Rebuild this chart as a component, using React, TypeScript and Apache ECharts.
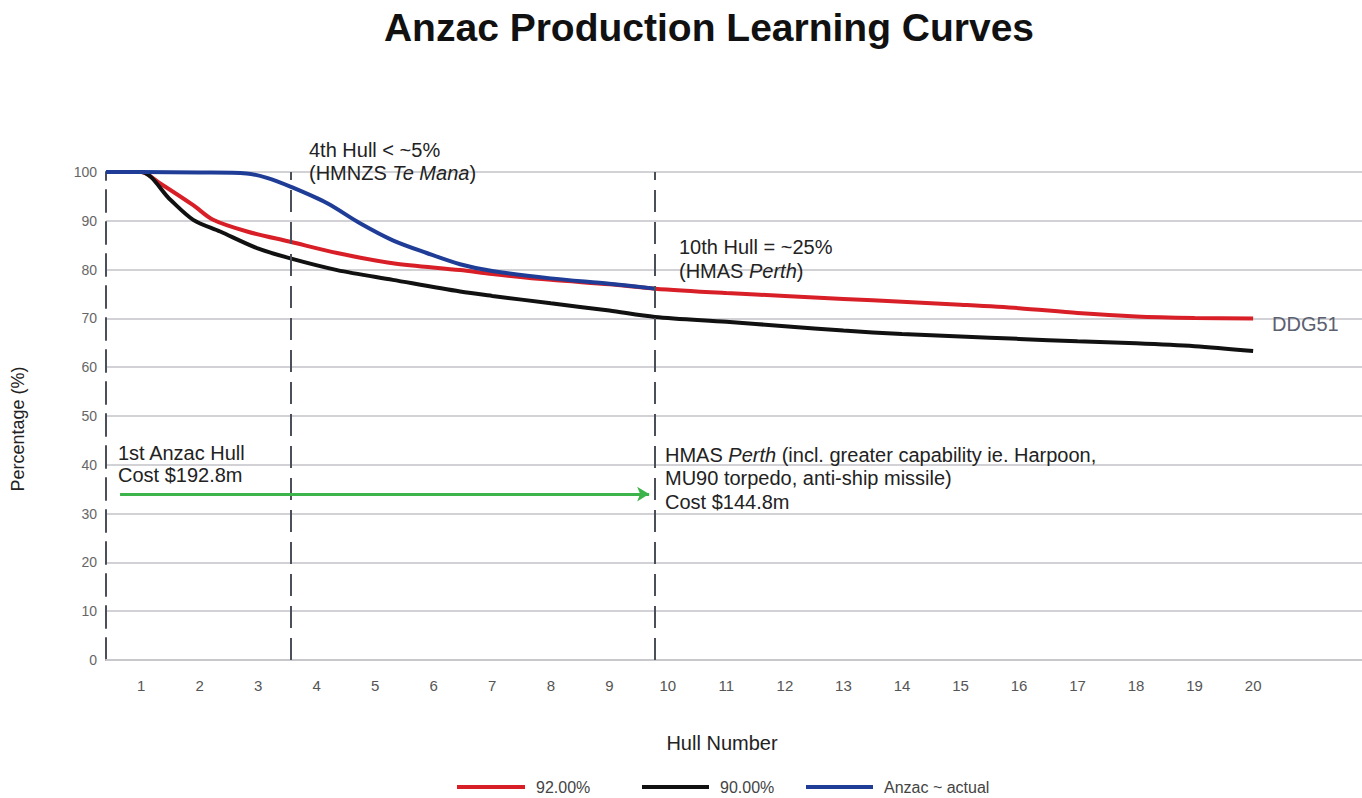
import React, { useEffect, useRef } from "react";
import * as echarts from "echarts";

const chartTitle = "Anzac Production Learning Curves";
const xAxisTitle = "Hull Number";
const yAxisTitle = "Percentage (%)";
const hullTicks = [1, 2, 3, 4, 5, 6, 7, 8, 9, 10, 11, 12, 13, 14, 15, 16, 17, 18, 19, 20];

const redName = "92.00%";
const redHull = [0.4, 1, 1.32, 1.89, 2.23, 2.81, 3.55, 4.35, 5.3, 6.45, 7, 8, 9, 9.78, 11, 12, 13, 14, 15, 16, 17, 18, 19, 20];
const redPct = [100, 100, 97.7, 93.2, 90.2, 87.8, 85.7, 83.4, 81.3, 79.9, 79.1, 77.9, 77, 76.1, 75.2, 74.6, 74, 73.4, 72.8, 72.1, 71.1, 70.4, 70.1, 70];

const blackName = "90.00%";
const blackHull = [0.4, 1, 1.5, 1.89, 2.35, 2.98, 3.55, 4.35, 5.3, 6.45, 7, 8, 9, 9.78, 11, 12, 13, 14, 15, 16, 17, 18, 19, 20];
const blackPct = [100, 100, 94.3, 90.2, 87.8, 84.4, 82.3, 79.9, 77.9, 75.5, 74.6, 73.1, 71.6, 70.3, 69.3, 68.4, 67.5, 66.8, 66.3, 65.8, 65.3, 64.9, 64.3, 63.3];

const blueName = "Anzac ~ actual";
const blueHull = [0.4, 1, 2, 2.8, 3.15, 3.55, 4.18, 4.74, 5.3, 5.88, 6.45, 7, 8, 9, 9.78];
const bluePct = [100, 100, 99.9, 99.7, 98.8, 97, 93.6, 89.5, 86, 83.4, 81.1, 79.7, 78.2, 77.1, 76.1];

const markerHulls = [3.56, 9.78];
const arrowFrom = [0.64, 34];
const arrowTo = [9.68, 34];

const FONT = "Liberation Sans, Arial, Helvetica, sans-serif";

function pairs(xs: number[], ys: number[]) {
  return xs.map((x, i) => [x, ys[i]]);
}

export default function App() {
  const ref = useRef<HTMLDivElement>(null);
  useEffect(() => {
    if (!ref.current) return;
    const chart = echarts.init(ref.current, null, { renderer: "svg" });
    const annText = { fontFamily: FONT, fontSize: 20, fill: "#222" };
    const rich = { i: { fontStyle: "italic", fontFamily: FONT, fontSize: 20, color: "#222" } };
    const legendText = { fontSize: 16, color: "#444", fontFamily: FONT, padding: [0, 0, 0, 6] };
    chart.setOption({
      animation: false,
      backgroundColor: "#fff",
      textStyle: { fontFamily: FONT },
      title: {
        text: chartTitle,
        left: 704,
        textAlign: "center",
        top: 3,
        textStyle: { fontSize: 39, fontWeight: "bold", color: "#111", fontFamily: FONT },
      },
      grid: { left: 106, right: 0, top: 172, bottom: 138, containLabel: false, outerBoundsMode: "none" },
      xAxis: {
        type: "value",
        min: 0.4,
        max: 21.86,
        axisLine: { show: true, lineStyle: { color: "#c8c8cc", width: 2 } },
        axisTick: { show: false },
        splitLine: { show: false },
        axisLabel: {
          customValues: hullTicks,
          color: "#555",
          fontSize: 15,
          margin: 18,
        },
      },
      yAxis: {
        type: "value",
        min: 0,
        max: 100,
        interval: 10,
        axisLine: { show: true, lineStyle: { color: "#4a4f5a", width: 2, type: [22, 10] } },
        axisTick: { show: false },
        axisLabel: { color: "#666", fontSize: 14, margin: 9 },
        splitLine: { show: true, lineStyle: { color: "#d2d2d6", width: 2 } },
      },
      legend: [
        { data: [redName], left: 452, top: 774, icon: "rect", itemWidth: 68, itemHeight: 4, textStyle: legendText },
        { data: [blackName], left: 637, top: 774, icon: "rect", itemWidth: 67, itemHeight: 4, textStyle: legendText },
        { data: [blueName], left: 801, top: 774, icon: "rect", itemWidth: 67, itemHeight: 4, textStyle: legendText },
      ],
      series: [
        {
          name: "markers",
          type: "line",
          data: [],
          z: 1,
          silent: true,
          markLine: {
            silent: true,
            symbol: ["none", "none"],
            label: { show: false },
            lineStyle: { color: "#4a4f5a", width: 2, type: [22, 10] },
            data: markerHulls.map((h) => ({ xAxis: h })),
          },
        },
        {
          name: "arrow",
          type: "line",
          data: [],
          z: 1,
          silent: true,
          markLine: {
            silent: true,
            symbol: ["none", "arrow"],
            symbolSize: [11, 12],
            label: { show: false },
            lineStyle: { color: "#3cb44b", width: 3, type: "solid" },
            data: [[{ coord: arrowFrom }, { coord: arrowTo }]],
          },
        },
        {
          name: redName,
          type: "line",
          data: pairs(redHull, redPct),
          smooth: 0.3,
          showSymbol: false,
          color: "#d81f27",
          lineStyle: { width: 4, color: "#d81f27" },
          z: 3,
        },
        {
          name: blackName,
          type: "line",
          data: pairs(blackHull, blackPct),
          smooth: 0.3,
          showSymbol: false,
          color: "#111111",
          lineStyle: { width: 4, color: "#111111" },
          z: 3,
        },
        {
          name: blueName,
          type: "line",
          data: pairs(blueHull, bluePct),
          smooth: 0.3,
          showSymbol: false,
          color: "#1f3d96",
          lineStyle: { width: 4, color: "#1f3d96" },
          z: 4,
        },
      ],
      graphic: [
        {
          type: "text", x: 722, y: 743, z: 10,
          style: { fontFamily: FONT, fontSize: 20, fill: "#222", text: xAxisTitle, align: "center", verticalAlign: "middle" },
        },
        {
          type: "text", x: 18, y: 429, z: 10, rotation: Math.PI / 2,
          style: { fontFamily: FONT, fontSize: 18, fill: "#222", text: yAxisTitle, align: "center", verticalAlign: "middle" },
        },
        {
          type: "text", x: 309, y: 138, z: 10,
          style: { ...annText, text: "4th Hull < ~5%\n(HMNZS {i|Te Mana})", lineHeight: 23, rich },
        },
        {
          type: "text", x: 679, y: 235, z: 10,
          style: { ...annText, text: "10th Hull = ~25%\n(HMAS {i|Perth})", lineHeight: 24, rich },
        },
        {
          type: "text", x: 118, y: 442, z: 10,
          style: { ...annText, text: "1st Anzac Hull\nCost $192.8m", lineHeight: 22 },
        },
        {
          type: "text", x: 665, y: 443, z: 10,
          style: {
            ...annText,
            text: "HMAS {i|Perth} (incl. greater capability ie. Harpoon,\nMU90 torpedo, anti-ship missile)\nCost $144.8m",
            lineHeight: 23.5,
            rich,
          },
        },
        {
          type: "text", x: 1272, y: 314, z: 10,
          style: { fontFamily: FONT, fontSize: 20, lineHeight: 20, fill: "#5a6070", text: "DDG51" },
        },
      ],
    });
    return () => chart.dispose();
  }, []);
  return (
    <div
      ref={ref}
      style={{ position: "fixed", left: 0, top: 0, width: 1362, height: 798, background: "#fff" }}
    />
  );
}
